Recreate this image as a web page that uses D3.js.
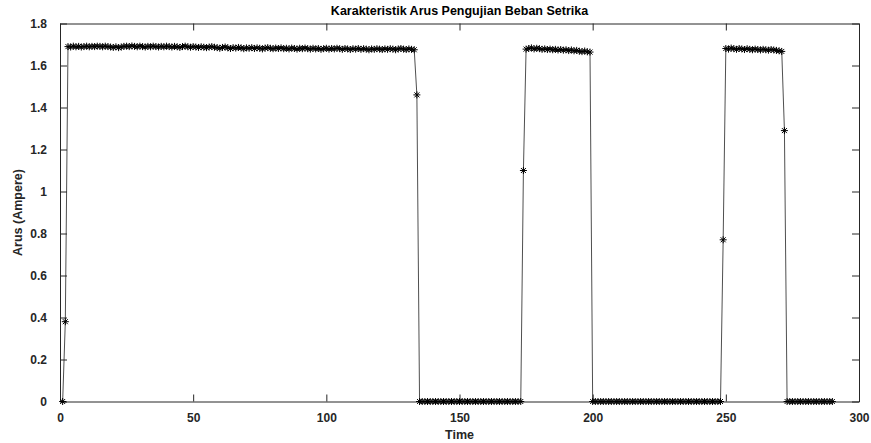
<!DOCTYPE html>
<html>
<head>
<meta charset="utf-8">
<script src="https://cdn.jsdelivr.net/npm/d3@7"></script>
<style>
  body { margin: 0; background: #fff; }
  svg { display: block; font-family: "Liberation Sans", Arial, sans-serif; }
</style>
</head>
<body>
<div id="chart"></div>
<script>
// time samples run 1..290
const timeStart = 1;

// current readings (Ampere), segment by segment
const riseA = [0, 0.38];
const plateauA = [
  1.690,1.688,1.692,1.689,1.691,1.688,1.690,1.692,1.689,1.691,
  1.690,1.692,1.691,1.689,1.692,1.690,1.688,1.686,1.689,1.685,
  1.688,1.691,1.692,1.690,1.693,1.691,1.689,1.692,1.690,1.688,
  1.691,1.689,1.692,1.690,1.688,1.691,1.689,1.692,1.690,1.688,
  1.691,1.689,1.686,1.690,1.692,1.689,1.687,1.690,1.688,1.686,
  1.689,1.687,1.685,1.688,1.690,1.687,1.685,1.682,1.686,1.688,
  1.684,1.681,1.685,1.683,1.686,1.684,1.680,1.684,1.682,1.685,
  1.681,1.684,1.682,1.679,1.683,1.685,1.682,1.680,1.683,1.681,
  1.684,1.680,1.682,1.679,1.683,1.681,1.678,1.682,1.680,1.683,
  1.680,1.678,1.682,1.679,1.681,1.677,1.680,1.682,1.678,1.681,
  1.679,1.682,1.680,1.677,1.681,1.679,1.676,1.680,1.678,1.681,
  1.677,1.680,1.678,1.675,1.679,1.677,1.680,1.678,1.676,1.679,
  1.677,1.680,1.678,1.675,1.679,1.681,1.678,1.676,1.679,1.677,1.675
];
const fallA = [1.46];
const offA = [0,0,0,0,0,0,0,0,0,0,0,0,0,0,0,0,0,0,0,0,0,0,0,0,0,0,0,0,0,0,0,0,0,0,0,0,0,0,0];
const riseB = [1.10];
const plateauB = [
  1.678,1.681,1.684,1.679,1.682,1.680,1.677,1.679,1.676,1.678,
  1.675,1.677,1.674,1.676,1.673,1.675,1.671,1.674,1.670,1.672,
  1.668,1.666,1.669,1.665,1.664
];
const offB = [0,0,0,0,0,0,0,0,0,0,0,0,0,0,0,0,0,0,0,0,0,0,0,0,0,0,0,0,0,0,0,0,0,0,0,0,0,0,0,0,0,0,0,0,0,0,0,0,0];
const riseC = [0.77];
const plateauC = [
  1.681,1.678,1.683,1.680,1.677,1.681,1.679,1.676,1.680,1.677,
  1.675,1.678,1.676,1.674,1.677,1.675,1.673,1.676,1.674,1.672,1.670,1.667
];
const fallC = [1.29];
const offC = [0,0,0,0,0,0,0,0,0,0,0,0,0,0,0,0,0,0];

const xTicks = [0, 50, 100, 150, 200, 250, 300];
const yTicks = [0, 0.2, 0.4, 0.6, 0.8, 1, 1.2, 1.4, 1.6, 1.8];

const arus = [].concat(riseA, plateauA, fallA, offA, riseB, plateauB, offB, riseC, plateauC, fallC, offC);
const data = arus.map((v, i) => ({t: timeStart + i, v: v}));

const W = 871, H = 443;
const margin = {top: 23.5, right: 12, bottom: 41.5, left: 60};
const width = W - margin.left - margin.right;
const height = H - margin.top - margin.bottom;

const svg = d3.select("#chart").append("svg")
  .attr("width", W).attr("height", H);

const g = svg.append("g")
  .attr("transform", `translate(${margin.left},${margin.top})`);

const x = d3.scaleLinear().domain([0, 300]).range([0, width]);
const y = d3.scaleLinear().domain([0, 1.8]).range([height, 0]);

const axisColor = "#262626";
const tickLen = 7;

// bottom axis with labels
const xAxis = g.append("g")
  .attr("transform", `translate(0,${height})`)
  .call(d3.axisBottom(x).tickValues(xTicks).tickFormat(d3.format("d"))
    .tickSizeInner(-tickLen).tickSizeOuter(0).tickPadding(12));
// left axis with labels
const yAxis = g.append("g")
  .call(d3.axisLeft(y).tickValues(yTicks).tickFormat(d => d === 0 || d === 1 ? d : d.toFixed(1))
    .tickSizeInner(-tickLen).tickSizeOuter(0).tickPadding(13));
// mirrored ticks on top and right
const xTop = g.append("g")
  .call(d3.axisTop(x).tickValues(xTicks).tickFormat("").tickSizeInner(-tickLen).tickSizeOuter(0));
const yRight = g.append("g")
  .attr("transform", `translate(${width},0)`)
  .call(d3.axisRight(y).tickValues(yTicks).tickFormat("").tickSizeInner(-tickLen).tickSizeOuter(0));

[xAxis, yAxis, xTop, yRight].forEach(a => {
  a.select(".domain").attr("stroke", axisColor).attr("stroke-width", 1);
  a.selectAll(".tick line").attr("stroke", axisColor).attr("stroke-width", 1);
  a.selectAll("text")
    .attr("fill", axisColor)
    .attr("font-size", "12px")
    .attr("font-weight", "bold");
});
yAxis.selectAll("text").attr("dy", "0.35em");

// line
const line = d3.line().x(d => x(d.t)).y(d => y(d.v));
g.append("path")
  .datum(data)
  .attr("fill", "none")
  .attr("stroke", "#222")
  .attr("stroke-width", 0.8)
  .attr("d", line);

// asterisk markers
const r = 3.5, rd = 2.5;
const star = `M${-r},0L${r},0M0,${-r}L0,${r}M${-rd},${-rd}L${rd},${rd}M${-rd},${rd}L${rd},${-rd}`;
g.append("g").selectAll("path")
  .data(data)
  .enter()
  .append("path")
  .attr("transform", d => `translate(${x(d.t)},${y(d.v)})`)
  .attr("d", star)
  .attr("stroke", "#000")
  .attr("stroke-width", 1)
  .attr("fill", "none");

// title
svg.append("text")
  .attr("x", margin.left + width / 2)
  .attr("y", 15)
  .attr("text-anchor", "middle")
  .attr("font-size", "12.5px")
  .attr("font-weight", "bold")
  .attr("fill", "#000")
  .text("Karakteristik Arus Pengujian Beban Setrika");

// axis labels
svg.append("text")
  .attr("x", margin.left + width / 2)
  .attr("y", 439)
  .attr("text-anchor", "middle")
  .attr("font-size", "12.5px")
  .attr("font-weight", "bold")
  .attr("fill", axisColor)
  .text("Time");

svg.append("text")
  .attr("transform", `translate(22,${margin.top + height / 2}) rotate(-90)`)
  .attr("text-anchor", "middle")
  .attr("font-size", "12.5px")
  .attr("font-weight", "bold")
  .attr("fill", axisColor)
  .text("Arus (Ampere)");
</script>
</body>
</html>
